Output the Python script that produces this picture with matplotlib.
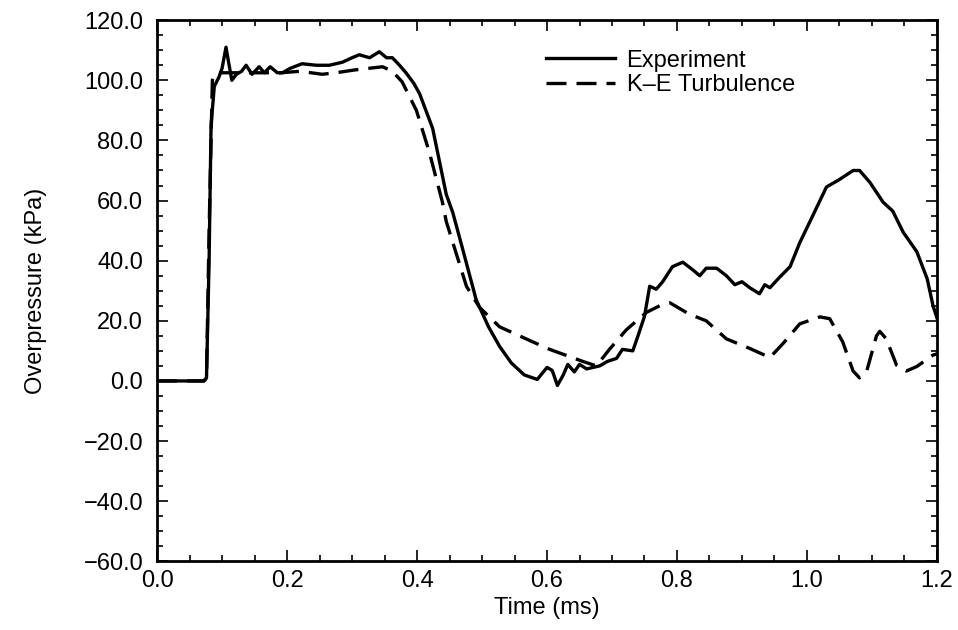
import numpy as np
import matplotlib
matplotlib.use("Agg")
import matplotlib.pyplot as plt
from matplotlib.ticker import MultipleLocator, FormatStrFormatter

plt.rcParams['font.family'] = ['Liberation Sans', 'DejaVu Sans']

# Experiment trace
t_exp = [0.0, 0.072, 0.076, 0.080, 0.083, 0.088, 0.095, 0.100, 0.106, 0.110,
         0.115, 0.122, 0.130, 0.137, 0.146, 0.157, 0.165, 0.174, 0.185, 0.193,
         0.205, 0.223, 0.245, 0.265, 0.285, 0.300, 0.311, 0.327, 0.342, 0.353,
         0.362, 0.373, 0.383, 0.395, 0.404, 0.424, 0.445, 0.455, 0.470, 0.491,
         0.510, 0.527, 0.545, 0.565, 0.585, 0.600, 0.608, 0.616, 0.625, 0.632,
         0.642, 0.650, 0.661, 0.681, 0.693, 0.707, 0.716, 0.732, 0.740, 0.750,
         0.758, 0.768, 0.778, 0.793, 0.809, 0.824, 0.835, 0.845, 0.861, 0.876,
         0.889, 0.900, 0.912, 0.927, 0.935, 0.943, 0.958, 0.974, 0.989, 1.009,
         1.030, 1.050, 1.071, 1.081, 1.097, 1.117, 1.132, 1.148, 1.169, 1.185,
         1.194, 1.200]
p_exp = [0, 0, 1, 40, 85, 98, 101, 104, 111, 106,
         100, 102, 103, 105, 102, 104.5, 102.5, 104.5, 102.5, 102.5,
         104, 105.5, 105, 105, 106, 107.5, 108.5, 107.5, 109.5, 107.5,
         107.5, 105, 102.5, 99, 95.5, 84, 62, 56, 44, 27,
         18, 11.5, 6, 2, 0.5, 4.5, 3.5, -1.5, 2, 5.5,
         3, 5.5, 4, 5, 6.5, 7.5, 10.5, 10, 15, 21.5,
         31.5, 30.5, 33, 38, 39.5, 37, 35, 37.5, 37.5, 35,
         32, 33, 31, 29, 32, 31, 34.5, 38, 46, 55,
         64.5, 67, 70, 70, 66, 59.5, 56.5, 49.5, 43, 34,
         25, 21]

# K-E turbulence model
t_ke = [0.0, 0.072, 0.076, 0.080, 0.085, 0.090, 0.096, 0.12, 0.15, 0.19,
        0.22, 0.254, 0.275, 0.306, 0.347, 0.362, 0.377, 0.399, 0.419, 0.439,
        0.445, 0.476, 0.496, 0.527, 0.578, 0.604, 0.655, 0.676, 0.696, 0.722,
        0.753, 0.778, 0.789, 0.819, 0.845, 0.876, 0.912, 0.943, 0.963, 0.989,
        1.02, 1.035, 1.055, 1.071, 1.081, 1.092, 1.107, 1.112, 1.122, 1.138,
        1.153, 1.169, 1.194, 1.2]
p_ke = [0, 0, 1, 50, 100, 102.5, 102.5, 102.5, 102.5, 102.5,
        103, 102, 102.5, 103.5, 104.5, 103, 99.5, 90, 76, 59.5,
        53, 31.5, 24.5, 18, 13, 10.5, 6.5, 5, 10.5, 17,
        22.8, 25.5, 26, 22.2, 20, 14, 10.8, 7.8, 12.4, 19,
        21.3, 20.7, 13, 3.3, 1, 3.3, 15, 16.5, 14, 5.2,
        3.3, 4.8, 8.6, 9]

fs = 17

fig = plt.figure(figsize=(9.58, 6.30), dpi=100)
ax = fig.add_axes([0.164, 0.109, 0.814, 0.859])

ax.plot(t_exp, p_exp, color='black', lw=2.4, label='Experiment')
ax.plot(t_ke, p_ke, color='black', lw=2.4, dashes=(6, 3), label='K\u2013E Turbulence')

ax.set_xlim(0.0, 1.2)
ax.set_ylim(-60, 120)
ax.xaxis.set_major_locator(MultipleLocator(0.2))
ax.xaxis.set_minor_locator(MultipleLocator(0.05))
ax.yaxis.set_major_locator(MultipleLocator(20))
ax.yaxis.set_minor_locator(MultipleLocator(5))
ax.xaxis.set_major_formatter(FormatStrFormatter('%.1f'))
ax.yaxis.set_major_formatter(
    matplotlib.ticker.FuncFormatter(lambda v, _: f'{v:.1f}'.replace('-', '\u2212')))

ax.tick_params(which='both', direction='in', top=True, right=True,
               labelsize=fs, width=1.2)
ax.tick_params(which='major', length=8)
ax.tick_params(axis='y', which='major', pad=10)
ax.tick_params(axis='x', which='major', pad=6)
ax.tick_params(which='minor', length=4)
for s in ax.spines.values():
    s.set_linewidth(2)

ax.set_xlabel('Time (ms)', fontsize=fs, labelpad=4)
ax.set_ylabel('Overpressure (kPa)', fontsize=fs, labelpad=26)

ax.legend(loc='upper right', bbox_to_anchor=(0.845, 0.985), frameon=False,
          fontsize=fs, handlelength=2.9, handletextpad=0.5, labelspacing=0.1)

fig.savefig('out.png', dpi=100)
